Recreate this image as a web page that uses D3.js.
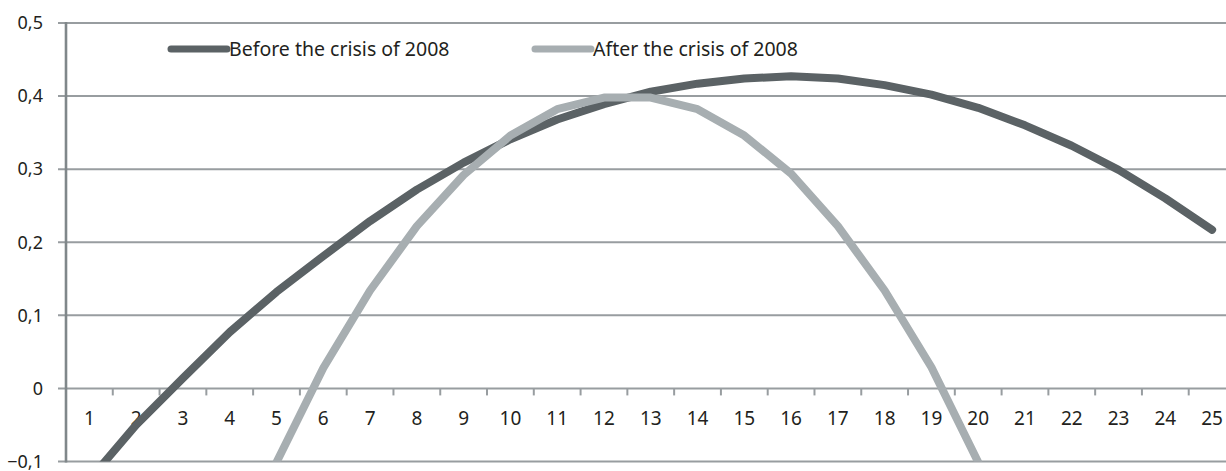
<!DOCTYPE html>
<meta charset="utf-8">
<style>
    body { margin: 0; background: #fff; }
    svg { display: block; }
    text { font-family: "Noto Sans", "Open Sans", sans-serif; fill: #231f20; }
</style>
<svg width="1226" height="471"></svg>
<script src="https://d3js.org/d3.v7.min.js"></script>
<script>
    // values
    var categories = d3.range(1, 26);
    var before = [-0.125, -0.05, 0.014, 0.077, 0.132, 0.181, 0.229, 0.272, 0.309, 0.341,
                  0.368, 0.389, 0.406, 0.417, 0.424, 0.427, 0.424, 0.415, 0.402, 0.384,
                  0.36, 0.332, 0.299, 0.26, 0.217];
    var after = [null, null, null, null, -0.101, 0.028, 0.134, 0.222, 0.292, 0.346,
                 0.382, 0.398, 0.398, 0.382, 0.346, 0.294, 0.222, 0.134, 0.029, -0.101,
                 null, null, null, null, null];
    var yTicks = [-0.1, 0, 0.1, 0.2, 0.3, 0.4, 0.5];
    var seriesNames = ["Before the crisis of 2008", "After the crisis of 2008"];
    var seriesColors = ["#5b6265", "#a7aeb1"];
</script>
<script>
    var svg = d3.select("svg");
    var left = 66, step = 46.78;
    var x = d3.scaleBand().domain(categories).range([left, left + step * categories.length]);
    var y = d3.scaleLinear().domain([-0.1, 0.5]).range([461.5, 23]);
    var fmt = function (d) { return d === 0 ? "0" : String(d3.format(".1f")(d)).replace(".", ","); };

    // gridlines
    svg.append("g").selectAll("line")
        .data(yTicks)
        .enter().append("line")
        .attr("x1", left - 8).attr("x2", 1226)
        .attr("y1", function (d) { return y(d); })
        .attr("y2", function (d) { return y(d); })
        .attr("stroke", "#989da0")
        .attr("stroke-width", 2);

    // y labels
    svg.append("g").selectAll("text")
        .data(yTicks)
        .enter().append("text")
        .attr("x", 43)
        .attr("y", function (d) { return y(d); })
        .attr("dy", "0.35em")
        .attr("text-anchor", "end")
        .attr("font-size", 18)
        .text(fmt);

    // ticks on the zero line
    svg.append("g").selectAll("line")
        .data(categories.slice(1))
        .enter().append("line")
        .attr("x1", function (d) { return x(d); })
        .attr("x2", function (d) { return x(d); })
        .attr("y1", y(0)).attr("y2", y(0) + 7)
        .attr("stroke", "#989da0")
        .attr("stroke-width", 2);

    // x labels
    svg.append("g").selectAll("text")
        .data(categories)
        .enter().append("text")
        .attr("x", function (d) { return x(d) + x.bandwidth() / 2; })
        .attr("y", 418)
        .attr("dy", "0.35em")
        .attr("text-anchor", "middle")
        .attr("font-size", 19)
        .text(function (d) { return d; });

    // left axis
    svg.append("line")
        .attr("x1", left).attr("x2", left)
        .attr("y1", y(0.5) - 1).attr("y2", y(-0.1) + 1)
        .attr("stroke", "#80878a")
        .attr("stroke-width", 2.6);

    svg.append("clipPath").attr("id", "plot")
        .append("rect")
        .attr("x", left).attr("y", y(0.5))
        .attr("width", 1226).attr("height", y(-0.1) - y(0.5));

    var line = d3.line()
        .defined(function (d) { return d !== null; })
        .x(function (d, i) { return x(categories[i]) + x.bandwidth() / 2; })
        .y(function (d) { return y(d); });

    svg.append("g").attr("clip-path", "url(#plot)")
        .selectAll("path")
        .data([before, after])
        .enter().append("path")
        .attr("d", line)
        .attr("fill", "none")
        .attr("stroke", function (d, i) { return seriesColors[i]; })
        .attr("stroke-width", 8)
        .attr("stroke-linecap", "round")
        .attr("stroke-linejoin", "round");

    // legend
    var legendX = [171, 535];
    var legend = svg.append("g").selectAll("g")
        .data(seriesNames)
        .enter().append("g")
        .attr("transform", function (d, i) { return "translate(" + legendX[i] + ",49)"; });
    legend.append("line")
        .attr("x1", 0).attr("x2", 56)
        .attr("stroke", function (d, i) { return seriesColors[i]; })
        .attr("stroke-width", 7)
        .attr("stroke-linecap", "round");
    legend.append("text")
        .attr("x", 58)
        .attr("dy", "0.35em")
        .attr("font-size", 19.5)
        .text(function (d) { return d; });
</script>
